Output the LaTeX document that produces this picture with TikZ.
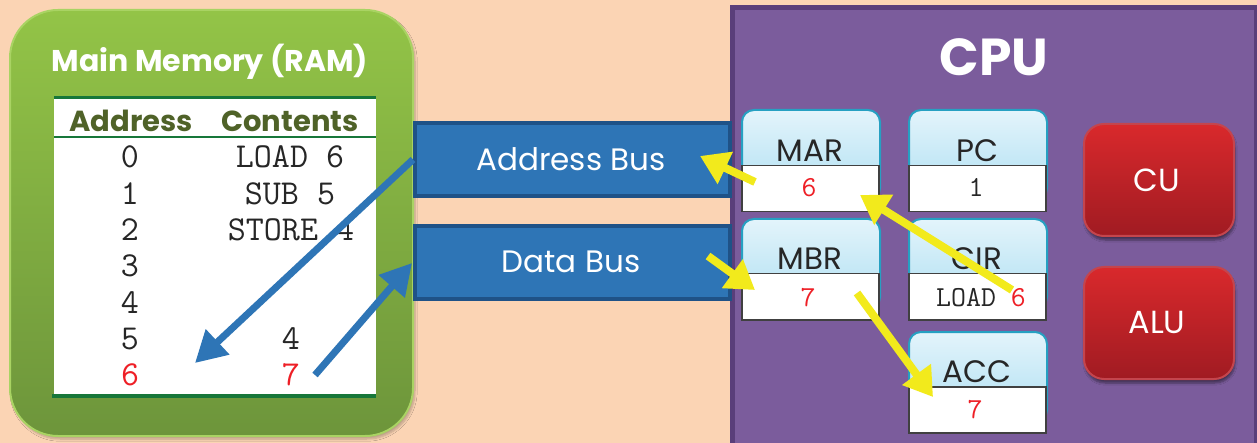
\documentclass[tikz,border=0pt]{standalone}
\usepackage{fontspec}
\setmainfont{Poppins}
\usetikzlibrary{arrows.meta,shadows,shadows.blur}

\definecolor{bg}{HTML}{FBD4B4}
\definecolor{ramtop}{HTML}{93C447}
\definecolor{rambot}{HTML}{6D953B}
\definecolor{ramedge}{HTML}{A9D363}
\definecolor{tblgreen}{HTML}{17773A}
\definecolor{hdrgreen}{HTML}{4F6228}
\definecolor{busblue}{HTML}{2E75B6}
\definecolor{busdark}{HTML}{1F5287}
\definecolor{cpufill}{HTML}{7B5C9C}
\definecolor{cpuedge}{HTML}{5A3E7A}
\definecolor{regtopc}{HTML}{E3F4FB}
\definecolor{regbotc}{HTML}{AEDFF2}
\definecolor{regedge}{HTML}{26A0C2}
\definecolor{redtop}{HTML}{D9292C}
\definecolor{redbot}{HTML}{A01B22}
\definecolor{rededge}{HTML}{C4454D}
\definecolor{arrowyellow}{HTML}{F2EA1C}
\definecolor{valred}{HTML}{EE1F26}

\tikzset{
  ramtitle/.style={text=white, font=\bfseries\fontsize{30}{30}\selectfont, anchor=base},
  hdr/.style={text=hdrgreen, font=\bfseries\fontsize{29}{29}\selectfont, anchor=base},
  cell/.style={text=black!85, font=\ttfamily\fontsize{35}{35}\selectfont, anchor=base, inner sep=0},
  redcell/.style={cell, text=valred},
  busbox/.style={fill=busblue, draw=busdark, line width=4pt, minimum width=315pt,
    minimum height=73pt, inner sep=0, anchor=north west},
  buslabel/.style={text=white, font=\fontsize{31}{31}\selectfont, anchor=base},
  regtop/.style={rounded corners=12pt, top color=regtopc, bottom color=regbotc,
    draw=regedge, line width=2pt, minimum width=138pt, minimum height=90pt,
    inner sep=0, anchor=north west},
  regval/.style={fill=white, draw=black!75, line width=1.5pt, minimum width=137pt,
    minimum height=46pt, inner sep=0, anchor=north west},
  reglabel/.style={text=black!85, font=\fontsize{31}{31}\selectfont, anchor=base},
  regnum/.style={text=black!85, font=\ttfamily\fontsize{29}{29}\selectfont, anchor=base},
  unitbox/.style={rounded corners=20pt, top color=redtop, bottom color=redbot,
    draw=rededge, line width=2pt, minimum width=150pt, minimum height=112pt,
    inner sep=0, anchor=north west,
    blur shadow={shadow xshift=1pt, shadow yshift=-4pt, shadow opacity=45, shadow blur steps=6}},
  unitlabel/.style={text=white, font=\fontsize{32}{32}\selectfont, anchor=base},
  bluearrow/.style={draw=busblue, line width=7pt, -{Triangle[length=31pt,width=33pt]}},
  yellowarrow/.style={draw=arrowyellow, line width=8pt, -{Triangle[length=28pt,width=34pt]}},
}

\begin{document}
\begin{tikzpicture}[x=1pt,y=-1pt]
\useasboundingbox (0,0) rectangle (1257,443);
\fill[bg] (0,0) rectangle (1257,443);

% ---------------- main memory ----------------
\node (ram) [rounded corners=48pt, top color=ramtop, bottom color=rambot,
  draw=ramedge, line width=2pt, minimum width=403pt, minimum height=426pt,
  inner sep=0, anchor=north west,
  blur shadow={shadow xshift=2pt, shadow yshift=-3pt, shadow opacity=25, shadow blur steps=6}]
  at (9,9) {};
\node (ramname) [ramtitle] at (210,72) {Main Memory (RAM)};

% table
\fill[white] (54,97) rectangle (376,396);
\draw[tblgreen, line width=3pt] (54,97.5) -- (376,97.5);
\draw[tblgreen, line width=2pt] (54,137) -- (376,137);
\draw[tblgreen, line width=4.5pt] (52,396) -- (376,396);
\node (haddr) [hdr] at (131,132) {Address};
\node (hcont) [hdr] at (290,132) {Contents};

\node (a0) [cell] at (130,168) {0};
\node (a1) [cell] at (130,204.5) {1};
\node (a2) [cell] at (130,240.5) {2};
\node (a3) [cell] at (130,276.5) {3};
\node (a4) [cell] at (130,313) {4};
\node (a5) [cell] at (130,349) {5};
\node (a6) [redcell] at (130,385) {6};
\node (c0) [cell] at (290,168) {LOAD 6};
\node (c1) [cell] at (290,204.5) {SUB 5};
\node (c2) [cell] at (291,240.5) {STORE 4};
\node (c5) [cell] at (291,349) {4};
\node (c6) [redcell] at (291,385) {7};

% ---------------- CPU ----------------
\node (cpu) [fill=cpufill, draw=cpuedge, line width=5pt, minimum width=524pt,
  minimum height=460pt, inner sep=0, anchor=north west] at (730,5.5) {};
\node (cpuname) [text=white, font=\bfseries\fontsize{52}{52}\selectfont, anchor=base]
  at (994,76) {CPU};

% registers
\node (martop) [regtop] at (741,109) {};
\node (mar) [regval] at (741,165) {};
\node (marlbl) [reglabel] at (810,162) {MAR};
\node (marnum) [regnum, text=valred] at (809,197) {6};

\node (pctop) [regtop] at (908,109) {};
\node (pc) [regval] at (908,165) {};
\node (pclbl) [reglabel] at (977,162) {PC};
\node (pcnum) [regnum] at (976,197) {1};

\node (mbrtop) [regtop] at (741,218) {};
\node (mbr) [regval] at (741,273) {};
\node (mbrlbl) [reglabel] at (810,270) {MBR};
\node (mbrnum) [regnum, text=valred] at (808,306) {7};

\node (cirtop) [regtop] at (908,218) {};
\node (cir) [regval] at (908,273) {};
\node (cirlbl) [reglabel] at (977,270) {CIR};
\node (cirnum) [regnum] at (981,306) {LOAD \textcolor{valred}{6}};

\node (acctop) [regtop] at (908,331) {};
\node (acc) [regval] at (908,386) {};
\node (acclbl) [reglabel] at (977,382) {ACC};
\node (accnum) [regnum, text=valred] at (975,418) {7};

% control unit and ALU
\node (cu) [unitbox] at (1083,123) {};
\node (culbl) [unitlabel] at (1157,192) {CU};
\node (alu) [unitbox] at (1083,266) {};
\node (alulbl) [unitlabel] at (1157,333) {ALU};

% ---------------- buses ----------------
\node (abus) [busbox] at (413,121) {};
\node (abuslbl) [buslabel] at (571,171) {Address Bus};
\node (dbus) [busbox] at (413,224) {};
\node (dbuslbl) [buslabel] at (571,273) {Data Bus};

% ---------------- transfers ----------------
\coordinate (ramhit) at (195,363);
\coordinate (ramsrc) at (315,375);
\coordinate (dbusin) at (412,263);
\draw[bluearrow] (abus.west) -- (ramhit);
\draw[bluearrow] (ramsrc) -- (dbusin);

\coordinate (marout) at (755,182);
\coordinate (abusin) at (700,156);
\coordinate (cirsrc) at (1012,290);
\coordinate (marin) at (860,195);
\coordinate (dbusout) at (708,256);
\coordinate (mbrin) at (755,290);
\coordinate (mbrout) at (857,293);
\coordinate (accin) at (933,397);
\draw[yellowarrow] (marout) -- (abusin);
\draw[yellowarrow] (cirsrc) -- (marin);
\draw[yellowarrow] (dbusout) -- (mbrin);
\draw[yellowarrow] (mbrout) -- (accin);
\end{tikzpicture}
\end{document}
